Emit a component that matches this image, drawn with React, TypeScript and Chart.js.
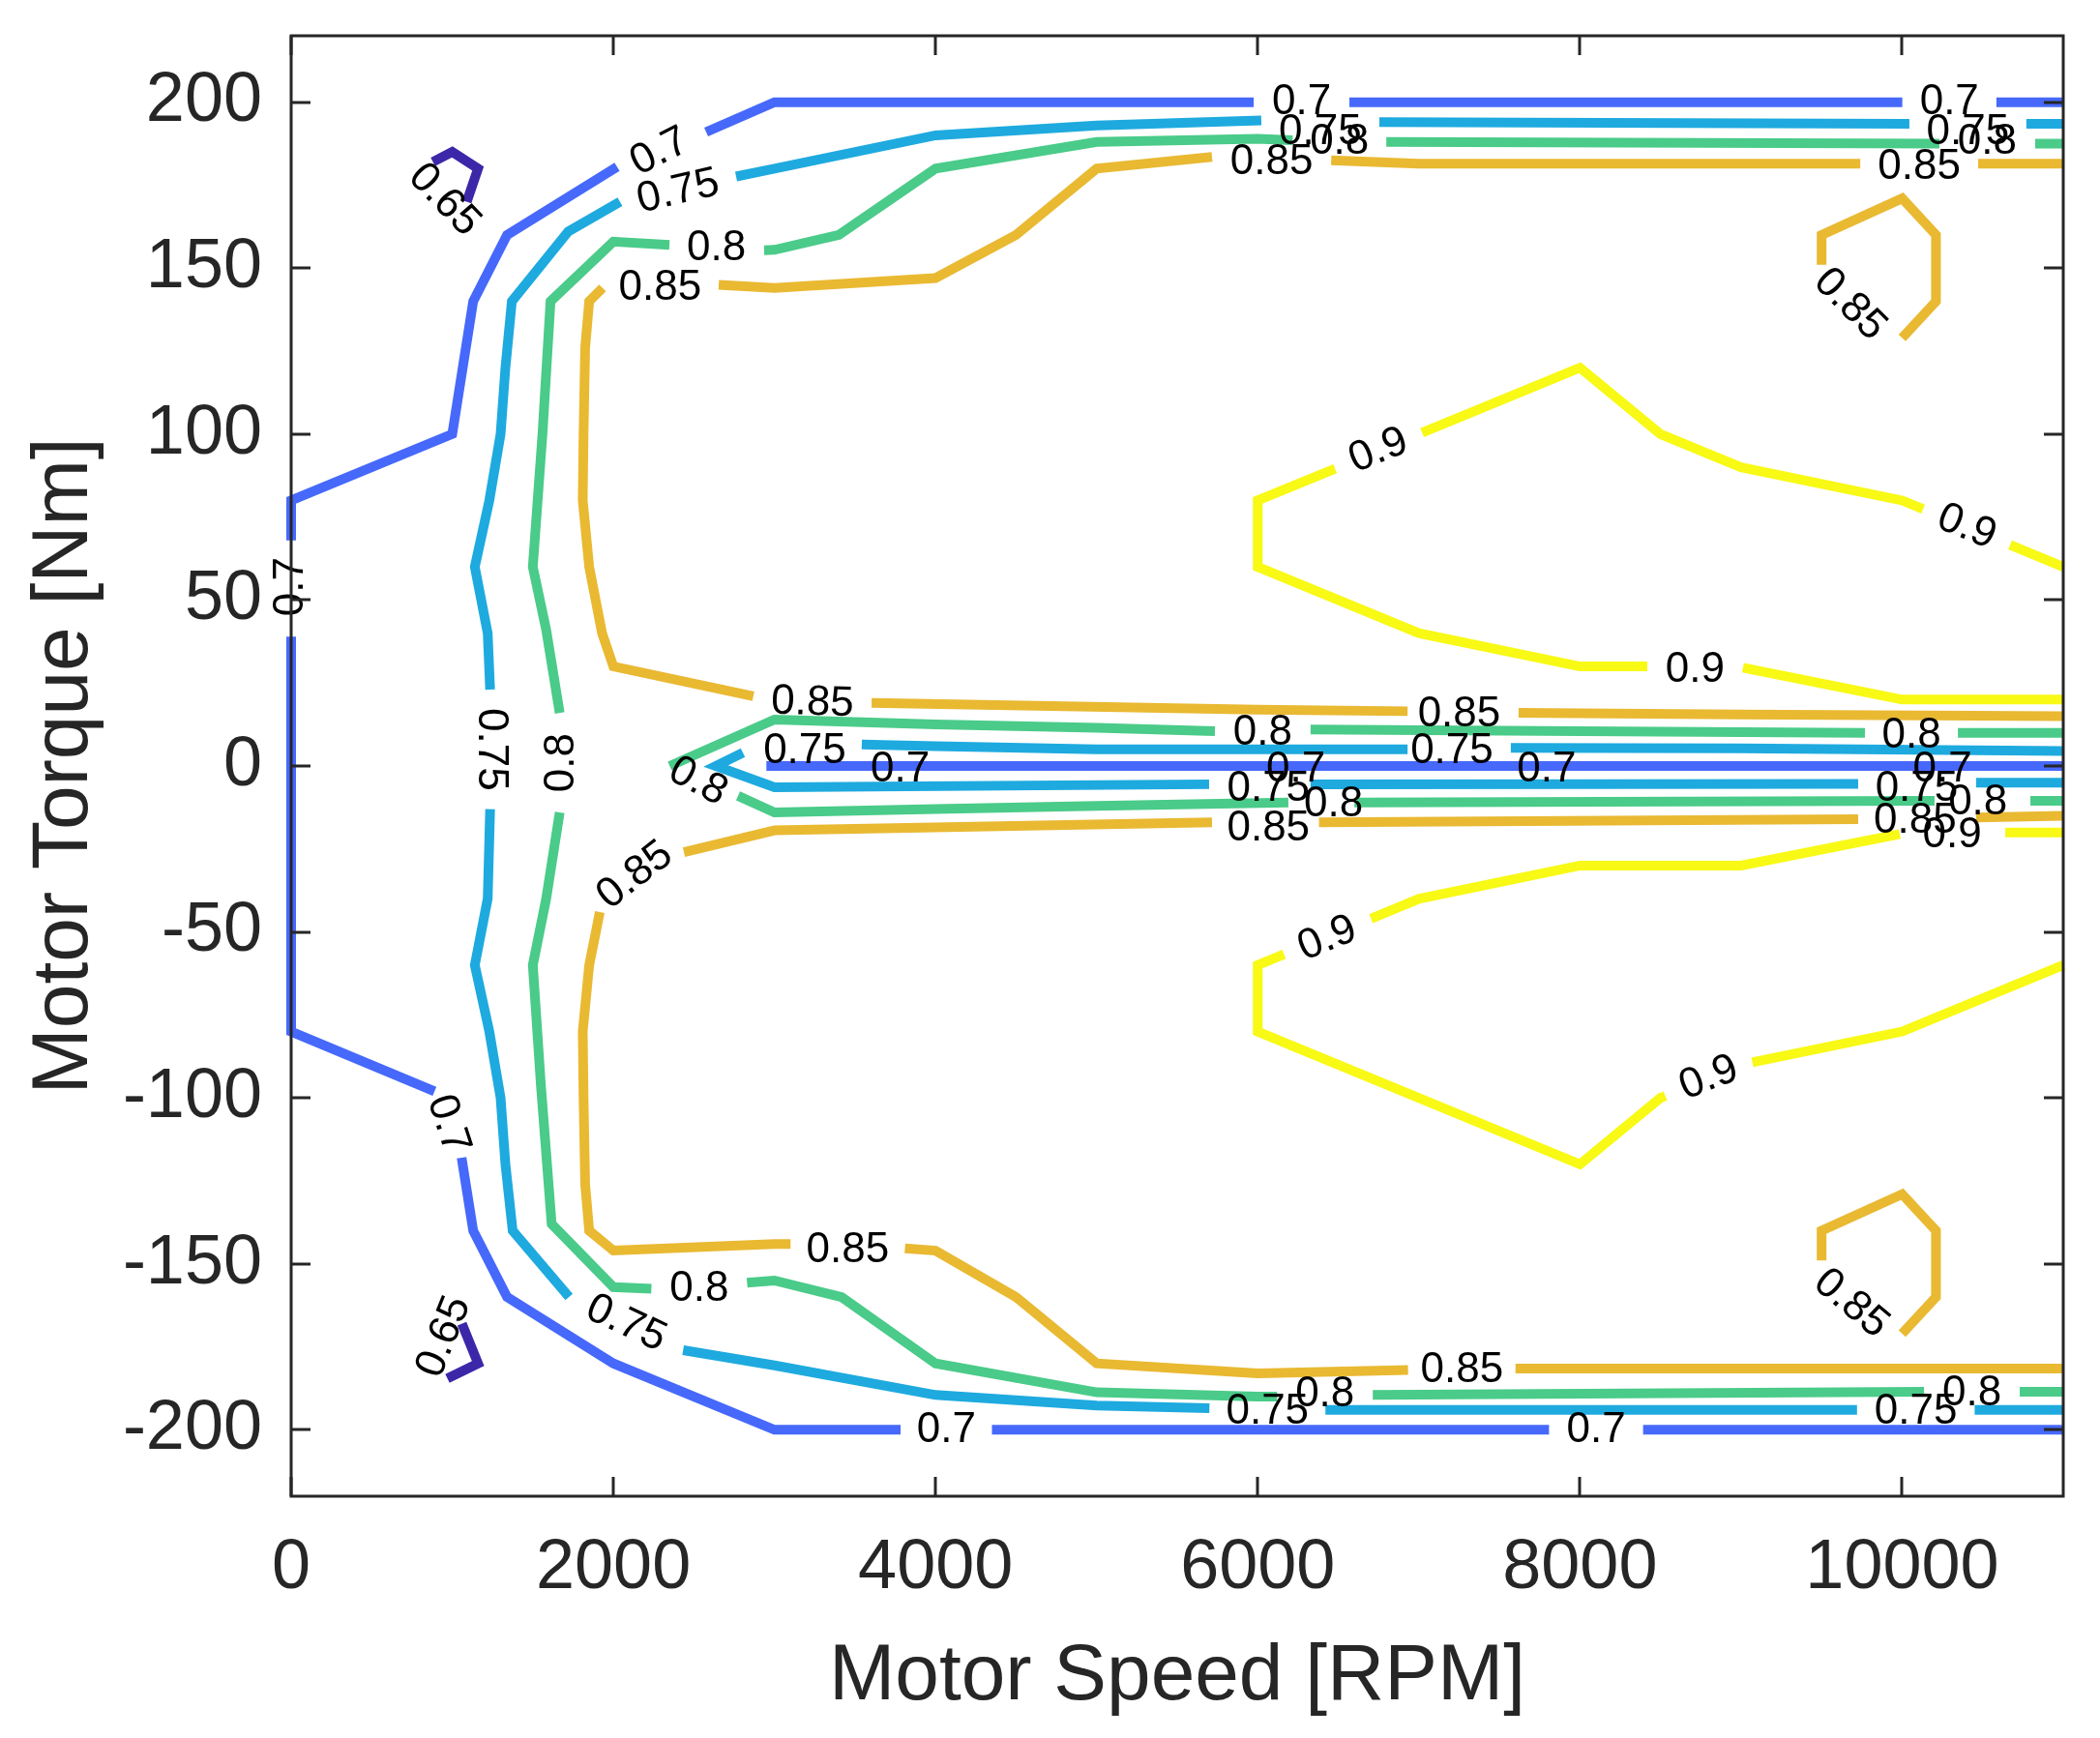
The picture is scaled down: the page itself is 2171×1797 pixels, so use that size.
import React, { useEffect, useRef } from 'react';
import { Chart, registerables } from 'chart.js';

Chart.register(...registerables);

type Seg = number[][];

// ---------- data ----------
const xTicks = [0, 2000, 4000, 6000, 8000, 10000];
const yTicks = [-200, -150, -100, -50, 0, 50, 100, 150, 200];
const levelNames = ['0.65', '0.7', '0.75', '0.8', '0.85', '0.9'];

// contour 0.65 (segments, [speed, torque])
const c065: Seg[] = [
  [[880, 182], [1000, 185], [1160, 180], [1090, 170]],
  [[970, -184.5], [1160, -180], [1060, -168]],
];

// contour 0.7
const c070: Seg[] = [
  [[11000, 200], [10585, 200]],
  [[10001, 200], [6569, 200]],
  [[5975, 200], [3000, 200], [2576, 191]],
  [[2023, 180.5], [1340, 160], [1130, 140], [1000, 100], [0, 80], [0, 68]],
  [[0, 39], [0, -80], [890, -98]],
  [[1058, -118], [1130, -140], [1340, -160], [2000, -180], [3000, -200], [3783, -200]],
  [[4350, -200], [7808, -200]],
  [[8392, -200], [11000, -200]],
  [[2950, 0], [11000, 0]],
];

// contour 0.75
const c075: Seg[] = [
  [[11000, 193.5], [10771, 193.5]],
  [[10045, 193.5], [6755, 194]],
  [[6022, 194.5], [5000, 193], [4000, 190], [3000, 180], [2762, 177.6]],
  [[2041, 170], [1720, 161], [1370, 140], [1330, 120], [1300, 100], [1230, 80], [1140, 60], [1220, 40], [1235, 23]],
  [[1235, -13], [1220, -40], [1140, -60], [1230, -80], [1300, -100], [1330, -120], [1375, -140], [1725, -160]],
  [[2433, -176], [3000, -180.6], [4000, -189.5], [5000, -192.7], [5700, -193.5]],
  [[6420, -194], [9720, -194]],
  [[10450, -194], [11000, -194]],
  [[2804, 4], [2636, 0], [3000, -6.4], [5698, -5.5]],
  [[6328, -5.5], [9727, -5.4]],
  [[10459, -5], [11000, -5]],
  [[3542, 6.5], [4000, 6], [5000, 5], [6930, 5]],
  [[7571, 5.5], [9000, 5.3], [11000, 4.5]],
];

// contour 0.8
const c080: Seg[] = [
  [[11000, 187.5], [10826, 187.5]],
  [[10231, 187.5], [6798, 188]],
  [[6216, 188.5], [6000, 189], [5000, 188], [4000, 180], [3400, 160], [3000, 155.5], [2936, 155.4]],
  [[2348, 157], [2000, 158], [1610, 140], [1560, 100], [1500, 60], [1583, 41], [1667, 16]],
  [[1667, -14], [1583, -40], [1500, -60], [1550, -96], [1617, -138], [2000, -157], [2236, -157.5]],
  [[2830, -155.7], [3000, -155], [3417, -160], [4000, -180], [5000, -188.7], [6000, -190], [6120, -190]],
  [[6714, -189.5], [10136, -188.5]],
  [[10730, -188.5], [11000, -188.5]],
  [[2350, 0], [3000, 14], [4000, 12.5], [5000, 11.5], [5734, 10.5]],
  [[6328, 11], [8000, 10.5], [9769, 10]],
  [[10346, 10], [11000, 10]],
  [[2774, -9], [3000, -14], [4000, -13], [5000, -12], [6190, -11]],
  [[6600, -11], [10201, -10.5]],
  [[10796, -10.5], [11000, -10.5]],
];

// contour 0.85
const c085: Seg[] = [
  [[11000, 181.5], [10472, 181.5]],
  [[9740, 181.5], [7000, 181.5], [6456, 182.5]],
  [[5716, 183.5], [5000, 180], [4500, 160], [4000, 147], [3000, 144], [2654, 145]],
  [[1933, 144], [1850, 140], [1825, 126], [1815, 100], [1810, 80], [1850, 60], [1930, 40], [2000, 30], [2869, 21]],
  [[3603, 19], [6000, 17], [6930, 16.5]],
  [[7619, 16], [9000, 15.5], [11000, 15]],
  [[11000, -181.5], [7600, -181.5]],
  [[6933, -182], [6000, -183], [5000, -180], [4500, -160], [4000, -146], [3810, -145.3]],
  [[3100, -144], [3000, -144], [2000, -146], [1850, -140], [1825, -126], [1815, -100], [1810, -80], [1850, -60], [1916, -44]],
  [[2438, -26], [3000, -19.4], [5716, -17]],
  [[6380, -17], [9727, -16]],
  [[10459, -15.5], [11000, -15]],
  [[10000, 129], [10210, 140], [10210, 160], [10000, 171], [9500, 160], [9500, 151]],
  [[10000, -171], [10210, -160], [10210, -140], [10000, -129], [9500, -140], [9500, -149]],
];

// contour 0.9
const c090: Seg[] = [
  [[11000, 60], [10670, 66.6]],
  [[10130, 77.4], [10000, 80], [9000, 90], [8500, 100], [8000, 120], [7020, 100.4]],
  [[6480, 89.6], [6000, 80], [6000, 60], [7000, 40], [8000, 30], [8418, 30]],
  [[9012, 29.6], [10000, 20], [11000, 20]],
  [[11000, -20], [10640, -20]],
  [[9985, -20.5], [9000, -30], [8000, -30], [7000, -40], [6703, -46]],
  [[6163, -56.7], [6000, -60], [6000, -80], [8000, -120], [8500, -100], [8530, -99.4]],
  [[9070, -89.3], [10000, -80], [11000, -60]],
];

// inline labels: [speed, torque, angle in degrees]
const lab065 = [[950, 170.5, 46], [950, -172, -68]];
const lab070 = [
  [0, 54, -90], [2288, 185, -27], [6272, 200, 0], [10293, 200, 0], [974, -108, 72],
  [4067, -200, 0], [8100, -200, 0], [3780, -1, 0], [6236, -1, 0], [7793, -1, 0], [10250, -1, 0],
];
const lab075 = [
  [2402, 173, -13], [6388, 191, 0], [10408, 191, 0], [1238, 5, 90], [2079, -168, 25],
  [6060, -194.5, 0], [10085, -194.5, 0], [3188, 4.5, 0], [7205, 4.5, 0], [6066, -7, 0], [10090, -7, 0],
];
const lab080 = [
  [2640, 156, 0], [6507, 188, 0], [10528, 188, 0], [1680, 1, -90], [2533, -157.5, 0],
  [6417, -189.5, 0], [10433, -189, 0], [6030, 10, 0], [10058, 9, 0], [2525, -4.7, 28],
  [6470, -11.5, 0], [10470, -11, 0],
];
const lab085 = [
  [2290, 144, 0], [6086, 182, 0], [10106, 180.5, 0], [9675, 139, 45], [9683, -162, 40],
  [3236, 19, 2], [7250, 15.5, 0], [2135, -33, -38], [6066, -19, 0], [10080, -16.5, 0],
  [3455, -146, 0], [7267, -182, 0],
];
const lab090 = [
  [6750, 95, -22], [10400, 72, 22], [8715, 29, 0], [8800, -94, -21], [6433, -52, -22], [10310, -21, 0],
];

const contours = [c065, c070, c075, c080, c085, c090];
const labels = [lab065, lab070, lab075, lab080, lab085, lab090];

// ---------- styles ----------
const levelColors = ['#3d27a9', '#4669fb', '#1eaadf', '#4acb89', '#e9b932', '#f8f915'];
const FONT = '"Liberation Sans", Arial, Helvetica, sans-serif';
const AXIS_COLOR = '#262626';

const zeroPad = (scale: any) => {
  scale.paddingTop = 0;
  scale.paddingBottom = 0;
  scale.paddingLeft = 0;
  scale.paddingRight = 0;
};

export default function App() {
  const ref = useRef<HTMLCanvasElement>(null);

  useEffect(() => {
    if (!ref.current) return;

    const datasets: any[] = [];
    contours.forEach((segs, li) => {
      segs.forEach((seg) => {
        datasets.push({
          data: seg.map(([x, y]) => ({ x, y })),
          borderColor: levelColors[li],
          backgroundColor: levelColors[li],
          borderWidth: 10,
          showLine: true,
          pointRadius: 0,
          pointHoverRadius: 0,
          fill: false,
          tension: 0,
          clip: false,
          borderJoinStyle: 'miter',
          borderCapStyle: 'butt',
        });
      });
    });

    const labelPlugin = {
      id: 'contourLabels',
      afterDatasetsDraw(chart: any) {
        const { ctx } = chart;
        const xs = chart.scales.x;
        const ys = chart.scales.y;
        ctx.save();
        ctx.fillStyle = '#000000';
        ctx.font = `44px ${FONT}`;
        ctx.textAlign = 'center';
        ctx.textBaseline = 'middle';
        labels.forEach((list, li) => {
          list.forEach(([x, y, a]) => {
            const px = xs.getPixelForValue(x);
            const py = ys.getPixelForValue(y);
            ctx.save();
            ctx.translate(px, py);
            ctx.rotate((a * Math.PI) / 180);
            ctx.fillText(levelNames[li], 0, 0);
            ctx.restore();
          });
        });
        ctx.restore();
      },
    };

    const boxPlugin = {
      id: 'matlabBox',
      afterDraw(chart: any) {
        const { ctx, chartArea } = chart;
        const { left, right, top, bottom } = chartArea;
        const xs = chart.scales.x;
        const ys = chart.scales.y;
        const tl = 20;
        ctx.save();
        ctx.strokeStyle = AXIS_COLOR;
        ctx.lineWidth = 3;
        ctx.beginPath();
        xTicks.forEach((v) => {
          const px = Math.round(xs.getPixelForValue(v));
          ctx.moveTo(px, bottom);
          ctx.lineTo(px, bottom - tl);
          ctx.moveTo(px, top);
          ctx.lineTo(px, top + tl);
        });
        yTicks.forEach((v) => {
          const py = Math.round(ys.getPixelForValue(v));
          ctx.moveTo(left, py);
          ctx.lineTo(left + tl, py);
          ctx.moveTo(right, py);
          ctx.lineTo(right - tl, py);
        });
        ctx.stroke();
        ctx.strokeRect(left, top, right - left, bottom - top);
        ctx.restore();
      },
    };

    const chart = new Chart(ref.current, {
      type: 'scatter',
      data: { datasets },
      options: {
        animation: false,
        responsive: false,
        devicePixelRatio: 1,
        events: [],
        layout: { padding: { left: 0, top: 37, right: 38, bottom: 0 } },
        plugins: {
          legend: { display: false },
          tooltip: { enabled: false },
          title: { display: false },
        },
        scales: {
          x: {
            type: 'linear',
            position: 'bottom',
            min: 0,
            max: 11000,
            grid: { display: false, drawTicks: false },
            border: { display: false },
            afterBuildTicks: (scale: any) => {
              scale.ticks = xTicks.map((v) => ({ value: v }));
            },
            afterFit: (scale: any) => {
              scale.height = 250;
              zeroPad(scale);
            },
            ticks: {
              autoSkip: false,
              maxRotation: 0,
              minRotation: 0,
              padding: 32,
              color: AXIS_COLOR,
              font: { size: 72, family: FONT },
              callback: (v: any) => String(v),
            },
            title: {
              display: true,
              text: 'Motor Speed [RPM]',
              color: AXIS_COLOR,
              font: { size: 82, family: FONT },
              padding: { top: 0, bottom: 13 },
            },
          },
          y: {
            type: 'linear',
            position: 'left',
            min: -220,
            max: 220,
            grid: { display: false, drawTicks: false },
            border: { display: false },
            afterBuildTicks: (scale: any) => {
              scale.ticks = yTicks.map((v) => ({ value: v }));
            },
            afterFit: (scale: any) => {
              scale.width = 301;
              zeroPad(scale);
            },
            ticks: {
              autoSkip: false,
              padding: 30,
              color: AXIS_COLOR,
              font: { size: 72, family: FONT },
              callback: (v: any) => String(v),
            },
            title: {
              display: true,
              text: 'Motor Torque [Nm]',
              color: AXIS_COLOR,
              font: { size: 82, family: FONT },
              padding: { top: 18, bottom: 0 },
            },
          },
        },
      },
      plugins: [labelPlugin, boxPlugin],
    } as any);

    return () => {
      chart.destroy();
    };
  }, []);

  return (
    <div style={{ position: 'absolute', left: 0, top: 0, width: 2171, height: 1797, background: '#ffffff' }}>
      <canvas ref={ref} width={2171} height={1797} style={{ display: 'block', width: 2171, height: 1797 }} />
    </div>
  );
}
